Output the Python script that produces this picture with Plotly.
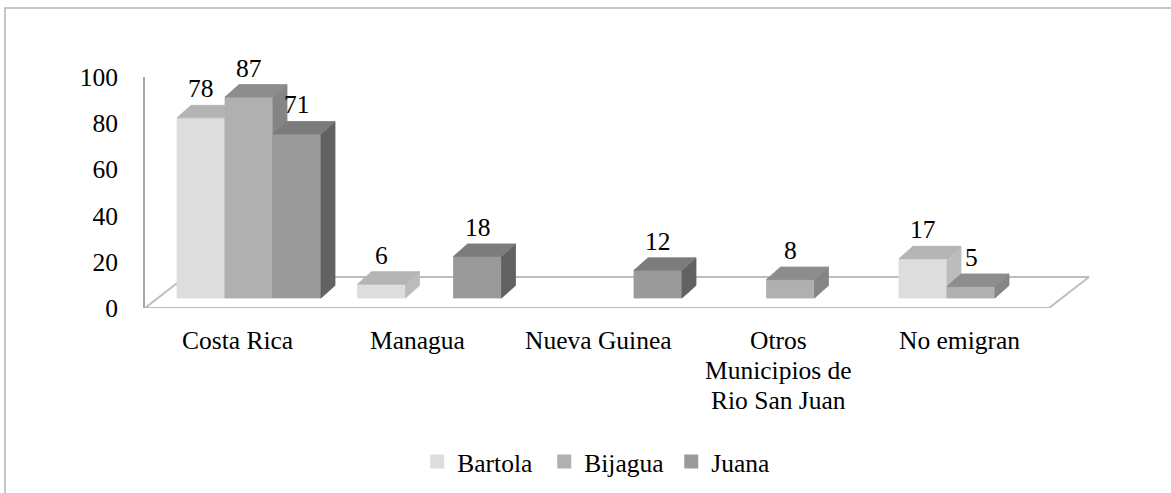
import plotly.graph_objects as go

# ---------------- data ----------------
categories = ["Costa Rica", "Managua", "Nueva Guinea",
              "Otros<br>Municipios de<br>Rio San Juan", "No emigran"]
series_names = ["Bartola", "Bijagua", "Juana"]
bartola = [78, 6, None, None, 17]
bijagua = [87, None, None, 8, 5]
juana = [71, 18, 12, None, None]
y_ticks = [0, 20, 40, 60, 80, 100]

# ---------------- styles ----------------
FONT = "Liberation Serif"
FS = 25.5
front_colors = ["#dddddd", "#b0b0b0", "#9a9a9a"]
top_colors = ["#b4b4b4", "#8d8d8d", "#7c7c7c"]
side_colors = ["#bcbcbc", "#858585", "#626262"]
line_gray = "#bdbdbd"

W, H = 1171, 493
L, R, T, B = 145, 1100, 77, 308          # plot area in px
X0_PX, X_STEP_PX = 237, 180.5            # px of category 0, px per category
px_per_y = (B - T) / 100.0
xr = [(L - X0_PX) / X_STEP_PX, (R - X0_PX) / X_STEP_PX]


def dxu(px):
    return px / X_STEP_PX


def dyu(px):
    return px / px_per_y


bar_w = dxu(48)
group_shift = dxu(12)
base = dyu(10)
depth_x = dxu(14)
depth_y = dyu(12.5)

fig = go.Figure()

# floor outline
fx0 = xr[0]
fx1 = xr[0] + dxu(904)
fdx, fdy = dxu(40), dyu(31)
fig.add_trace(go.Scatter(
    x=[fx0, fx1, fx1 + fdx, fx0 + fdx, fx0],
    y=[0, 0, fdy, fdy, 0],
    mode="lines", line=dict(color=line_gray, width=2),
    showlegend=False, hoverinfo="skip", cliponaxis=False))

all_series = [bartola, bijagua, juana]
annotations = []
for i, cat in enumerate(categories):
    for k, vals in enumerate(all_series):
        v = vals[i]
        if v is None:
            continue
        x0 = i + group_shift + (k - 1) * bar_w - bar_w / 2
        x1 = x0 + bar_w
        yb, yt = base, base + v
        faces = [
            ([x0, x1, x1, x0, x0], [yb, yb, yt, yt, yb], front_colors[k]),
            ([x1, x1 + depth_x, x1 + depth_x, x1, x1],
             [yb, yb + depth_y, yt + depth_y, yt, yb], side_colors[k]),
            ([x0, x1, x1 + depth_x, x0 + depth_x, x0],
             [yt, yt, yt + depth_y, yt + depth_y, yt], top_colors[k]),
        ]
        for fx, fy, col in faces:
            fig.add_trace(go.Scatter(
                x=fx, y=fy, mode="lines", fill="toself", fillcolor=col,
                line=dict(color=col, width=0.8), showlegend=False,
                hoverinfo="skip", cliponaxis=False))
        annotations.append(dict(
            x=(x0 + x1) / 2, y=yt + depth_y, xref="x", yref="y",
            text=str(v), showarrow=False, xanchor="center", yanchor="bottom",
            font=dict(family=FONT, size=FS, color="black")))

# legend entries
for k, name in enumerate(series_names):
    fig.add_trace(go.Scatter(
        x=[None], y=[None], mode="markers", name=name,
        marker=dict(symbol="square", size=14, color=front_colors[k])))

# category labels (one annotation per line)
for i, cat in enumerate(categories):
    for j, line in enumerate(cat.split("<br>")):
        py = 340.5 + 30 * j
        annotations.append(dict(
            x=i, y=(B - py) / (B - T), xref="x", yref="paper",
            text=line, showarrow=False, xanchor="center", yanchor="middle",
            font=dict(family=FONT, size=FS, color="black")))

shapes = [dict(
    type="rect", xref="paper", yref="paper",
    x0=(5 - L) / (R - L), x1=(1250 - L) / (R - L),
    y0=(B - 560) / (B - T), y1=(B - 8) / (B - T),
    line=dict(color="#b4b4b4", width=1.5), fillcolor="rgba(0,0,0,0)",
    layer="below")]

fig.update_layout(
    width=W, height=H, autosize=False,
    margin=dict(l=L, r=W - R, t=T, b=H - B, pad=0),
    paper_bgcolor="white", plot_bgcolor="white",
    font=dict(family=FONT, size=FS, color="black"),
    xaxis=dict(range=xr, showgrid=False, zeroline=False, showline=False,
               showticklabels=False, ticks="", fixedrange=True),
    yaxis=dict(range=[0, 100], tickvals=y_ticks, showgrid=False,
               zeroline=False, showline=True, linecolor="#a6a6a6",
               linewidth=2, ticks="", ticklabelstandoff=20,
               tickfont=dict(family=FONT, size=FS, color="black"),
               fixedrange=True),
    showlegend=True,
    legend=dict(orientation="h", xref="container", yref="container",
                x=0.519, xanchor="center", y=1 - 462 / H, yanchor="middle",
                font=dict(family=FONT, size=FS, color="black"),
                itemwidth=30, entrywidth=82, bgcolor="rgba(0,0,0,0)"),
    annotations=annotations, shapes=shapes,
)

fig.write_html(
    "out.html",
    config={"displayModeBar": False},
    post_script="document.body.style.margin='0';document.body.style.overflow='hidden';",
)
